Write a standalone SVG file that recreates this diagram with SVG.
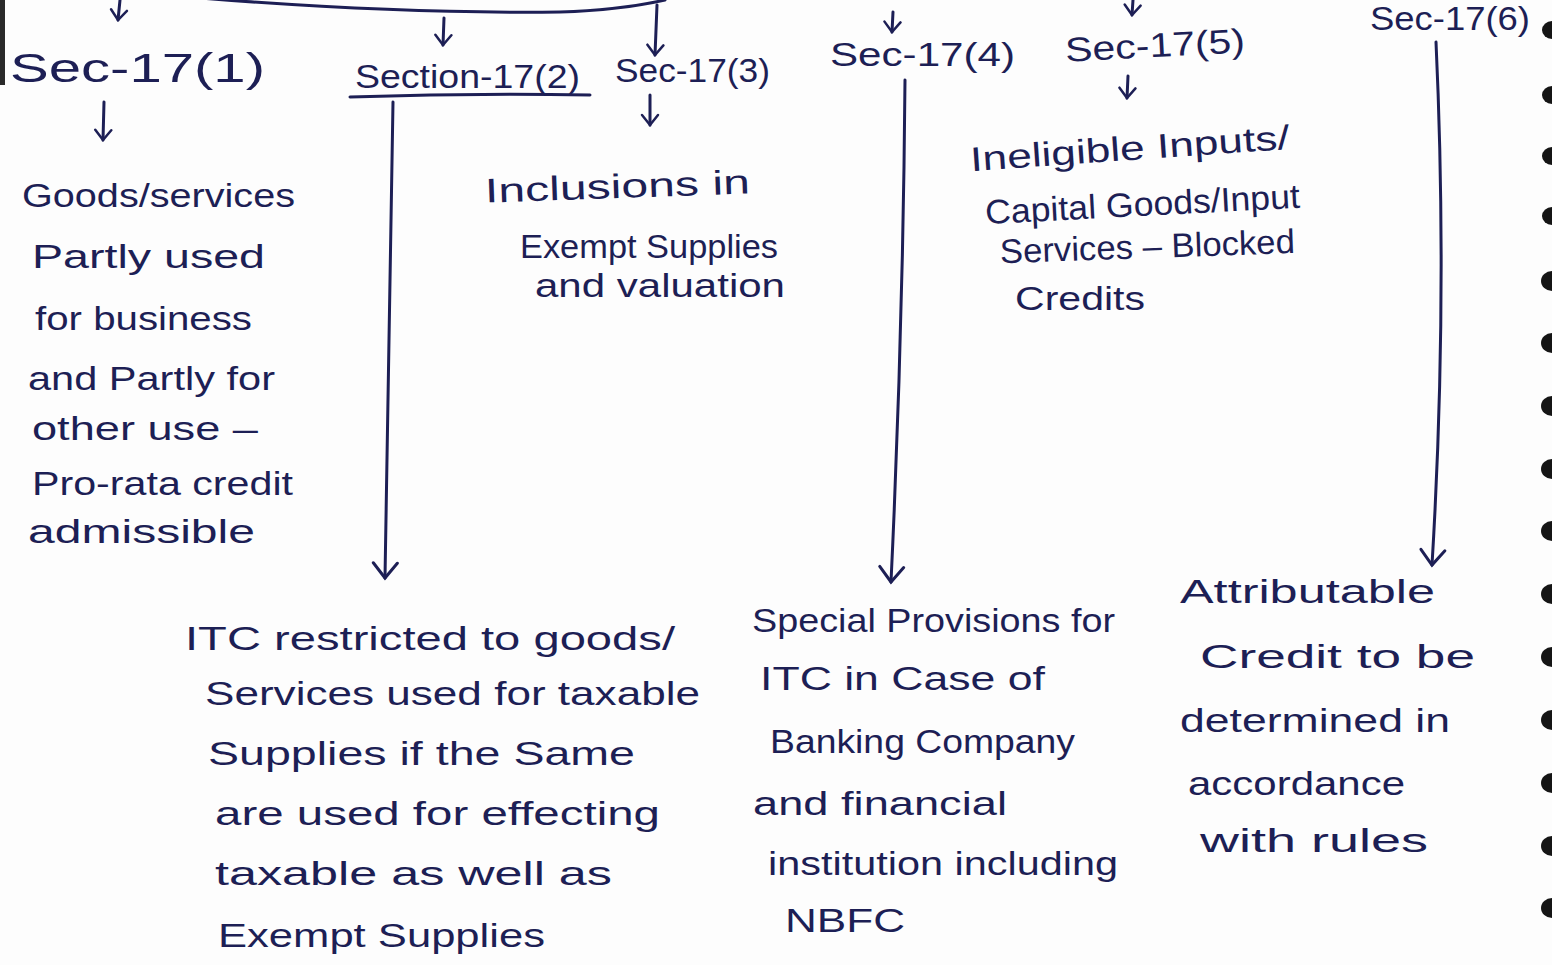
<svg xmlns="http://www.w3.org/2000/svg" width="1552" height="965" viewBox="0 0 1552 965">
<style>
.t{font-family:"Liberation Sans","DejaVu Sans",sans-serif;fill:#1d1f55;font-size:34px}
.h{font-size:40px}
.c{fill:none;stroke:#1d1f55;stroke-width:3;stroke-linecap:round}
</style>
<defs>
<marker id="a" viewBox="0 0 20 20" refX="12" refY="10" markerWidth="20" markerHeight="20" markerUnits="userSpaceOnUse" orient="auto">
<path d="M2,2 L12,10 L2,18" fill="none" stroke="#1d1f55" stroke-width="2.5" stroke-linecap="round"/>
</marker>
<marker id="b" viewBox="0 0 30 30" refX="17" refY="15" markerWidth="30" markerHeight="30" markerUnits="userSpaceOnUse" orient="auto">
<path d="M2,3 L17,15 L2,27" fill="none" stroke="#1d1f55" stroke-width="3" stroke-linecap="round"/>
</marker>
</defs>
<rect width="1552" height="965" fill="#fdfdfd"/>
<rect x="0" y="0" width="5" height="85" fill="#2a2a2a"/>
<g id="binding" fill="#151515">
<ellipse cx="1552" cy="30" rx="10" ry="9"/>
<ellipse cx="1552" cy="95" rx="10" ry="9"/>
<ellipse cx="1552" cy="156" rx="10" ry="9"/>
<ellipse cx="1552" cy="216" rx="10" ry="9"/>
<ellipse cx="1552" cy="281" rx="11" ry="10"/>
<ellipse cx="1552" cy="343" rx="11" ry="10"/>
<ellipse cx="1552" cy="406" rx="11" ry="10"/>
<ellipse cx="1552" cy="469" rx="11" ry="10"/>
<ellipse cx="1552" cy="531" rx="11" ry="10"/>
<ellipse cx="1552" cy="594" rx="11" ry="10"/>
<ellipse cx="1552" cy="657" rx="11" ry="10"/>
<ellipse cx="1552" cy="720" rx="11" ry="10"/>
<ellipse cx="1552" cy="783" rx="11" ry="10"/>
<ellipse cx="1552" cy="846" rx="11" ry="10"/>
<ellipse cx="1552" cy="908" rx="11" ry="10"/>
</g>
<g id="connectors">
<path class="c" d="M200,-2 Q400,14 560,12 Q620,10 665,0"/>
<path class="c" d="M120,0 L118,20" marker-end="url(#a)"/>
<path class="c" d="M444,18 L443,45" marker-end="url(#a)"/>
<path class="c" d="M657,5 L655,55" marker-end="url(#a)"/>
<path class="c" d="M893,12 L892,32" marker-end="url(#a)"/>
<path class="c" d="M1133,0 L1132,15" marker-end="url(#a)"/>
<path class="c" d="M350,97 Q470,93 590,95"/>
<path class="c" d="M104,102 L103,140" marker-end="url(#a)"/>
<path class="c" d="M650,95 L650,125" marker-end="url(#a)"/>
<path class="c" d="M1128,76 L1127,98" marker-end="url(#a)"/>
<path class="c" d="M393,102 Q390,340 385,578" marker-end="url(#b)"/>
<path class="c" d="M905,80 Q903,330 891,582" marker-end="url(#b)"/>
<path class="c" d="M1436,42 Q1448,300 1432,565" marker-end="url(#b)"/>
</g>
<g id="sec17-1">
<text class="t h" x="10" y="82" textLength="255" lengthAdjust="spacingAndGlyphs">Sec-17(1)</text>
<text class="t" x="22" y="207" textLength="273" lengthAdjust="spacingAndGlyphs">Goods/services</text>
<text class="t" x="32" y="268" textLength="233" lengthAdjust="spacingAndGlyphs">Partly used</text>
<text class="t" x="35" y="330" textLength="217" lengthAdjust="spacingAndGlyphs">for business</text>
<text class="t" x="28" y="390" textLength="247" lengthAdjust="spacingAndGlyphs">and Partly for</text>
<text class="t" x="32" y="440" textLength="226" lengthAdjust="spacingAndGlyphs">other use –</text>
<text class="t" x="32" y="495" textLength="261" lengthAdjust="spacingAndGlyphs">Pro-rata credit</text>
<text class="t" x="28" y="543" textLength="227" lengthAdjust="spacingAndGlyphs">admissible</text>
</g>
<g id="sec17-2">
<text class="t" x="355" y="88" font-size="30" textLength="225" lengthAdjust="spacingAndGlyphs">Section-17(2)</text>
</g>
<g id="sec17-2-body">
<text class="t" x="185" y="650" textLength="490" lengthAdjust="spacingAndGlyphs">ITC restricted to goods/</text>
<text class="t" x="205" y="705" textLength="495" lengthAdjust="spacingAndGlyphs">Services used for taxable</text>
<text class="t" x="208" y="765" textLength="427" lengthAdjust="spacingAndGlyphs">Supplies if the Same</text>
<text class="t" x="215" y="825" textLength="445" lengthAdjust="spacingAndGlyphs">are used for effecting</text>
<text class="t" x="215" y="885" textLength="397" lengthAdjust="spacingAndGlyphs">taxable as well as</text>
<text class="t" x="218" y="947" textLength="327" lengthAdjust="spacingAndGlyphs">Exempt Supplies</text>
</g>
<g id="sec17-3">
<text class="t" x="615" y="82" font-size="32" textLength="155" lengthAdjust="spacingAndGlyphs">Sec-17(3)</text>
<text class="t" x="485" y="198" textLength="265" lengthAdjust="spacingAndGlyphs" transform="rotate(-2 617 190)">Inclusions in</text>
<text class="t" x="520" y="258" font-size="28" textLength="258" lengthAdjust="spacingAndGlyphs">Exempt Supplies</text>
<text class="t" x="535" y="297" font-size="28" textLength="250" lengthAdjust="spacingAndGlyphs">and valuation</text>
</g>
<g id="sec17-4">
<text class="t" x="830" y="66" font-size="32" textLength="185" lengthAdjust="spacingAndGlyphs">Sec-17(4)</text>
</g>
<g id="sec17-4-body">
<text class="t" x="752" y="632" textLength="363" lengthAdjust="spacingAndGlyphs">Special Provisions for</text>
<text class="t" x="760" y="690" textLength="285" lengthAdjust="spacingAndGlyphs">ITC in Case of</text>
<text class="t" x="770" y="753" textLength="305" lengthAdjust="spacingAndGlyphs">Banking Company</text>
<text class="t" x="753" y="815" textLength="254" lengthAdjust="spacingAndGlyphs">and financial</text>
<text class="t" x="768" y="875" textLength="350" lengthAdjust="spacingAndGlyphs">institution including</text>
<text class="t" x="785" y="932" textLength="120" lengthAdjust="spacingAndGlyphs">NBFC</text>
</g>
<g id="sec17-5">
<text class="t" x="1065" y="57" font-size="32" textLength="180" lengthAdjust="spacingAndGlyphs" transform="rotate(-3 1155 45)">Sec-17(5)</text>
<text class="t" x="970" y="160" textLength="320" lengthAdjust="spacingAndGlyphs" transform="rotate(-4 1130 150)">Ineligible Inputs/</text>
<text class="t" x="985" y="216" textLength="315" lengthAdjust="spacingAndGlyphs" transform="rotate(-3 1140 205)">Capital Goods/Input</text>
<text class="t" x="1000" y="258" textLength="295" lengthAdjust="spacingAndGlyphs" transform="rotate(-2 1150 250)">Services – Blocked</text>
<text class="t" x="1015" y="310" textLength="130" lengthAdjust="spacingAndGlyphs">Credits</text>
</g>
<g id="sec17-6">
<text class="t" x="1370" y="30" font-size="28" textLength="160" lengthAdjust="spacingAndGlyphs">Sec-17(6)</text>
</g>
<g id="sec17-6-body">
<text class="t" x="1180" y="603" textLength="255" lengthAdjust="spacingAndGlyphs">Attributable</text>
<text class="t" x="1200" y="668" textLength="275" lengthAdjust="spacingAndGlyphs">Credit to be</text>
<text class="t" x="1180" y="732" textLength="270" lengthAdjust="spacingAndGlyphs">determined in</text>
<text class="t" x="1188" y="795" textLength="217" lengthAdjust="spacingAndGlyphs">accordance</text>
<text class="t" x="1200" y="852" textLength="228" lengthAdjust="spacingAndGlyphs">with rules</text>
</g>
</svg>
